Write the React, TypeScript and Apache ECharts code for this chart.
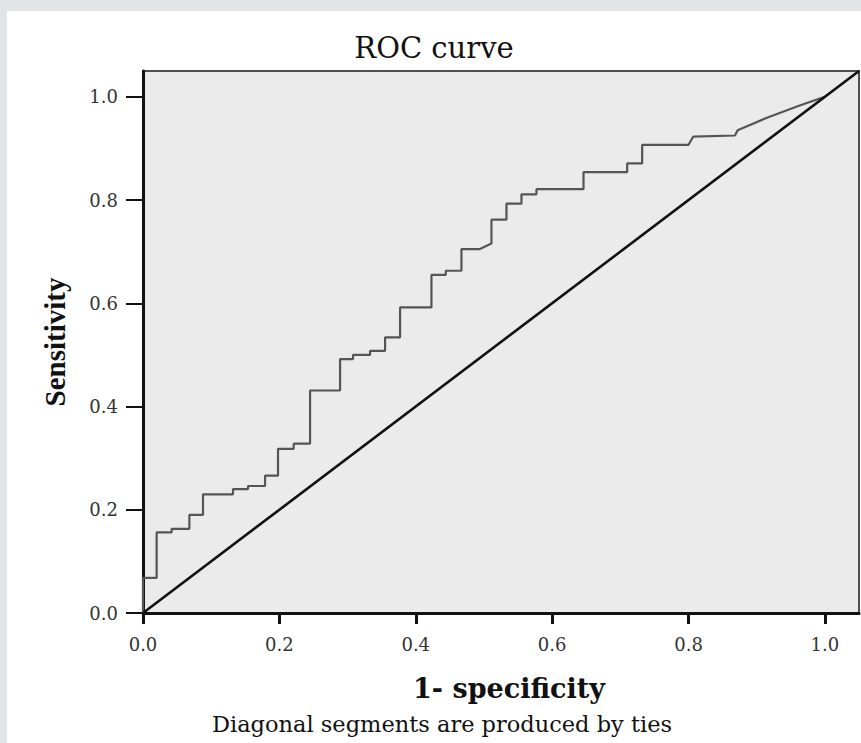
import React, { useEffect, useRef } from "react";
import * as echarts from "echarts";

const TITLE = "ROC curve";
const X_NAME = "1- specificity";
const Y_NAME = "Sensitivity";
const FOOTNOTE = "Diagonal segments are produced by ties";
const TICK_VALUES = [0, 0.2, 0.4, 0.6, 0.8, 1.0];
const AXIS_MAX = 1.05;

// ROC curve points: 1 - specificity (x) and sensitivity (y)
const FPR = [
  0, 0, 0.02, 0.02, 0.042, 0.042, 0.068, 0.068, 0.088, 0.088, 0.132, 0.132,
  0.154, 0.154, 0.179, 0.179, 0.198, 0.198, 0.221, 0.221, 0.245, 0.245, 0.289,
  0.289, 0.308, 0.308, 0.333, 0.333, 0.355, 0.355, 0.377, 0.377, 0.423, 0.423,
  0.444, 0.444, 0.467, 0.467, 0.494, 0.511, 0.511, 0.533, 0.533, 0.555, 0.555,
  0.577, 0.577, 0.646, 0.646, 0.71, 0.71, 0.732, 0.732, 0.8, 0.807, 0.868,
  0.872, 0.914, 0.963, 1.0,
];
const TPR = [
  0, 0.068, 0.068, 0.156, 0.156, 0.163, 0.163, 0.19, 0.19, 0.23, 0.23, 0.24,
  0.24, 0.246, 0.246, 0.266, 0.266, 0.318, 0.318, 0.328, 0.328, 0.431, 0.431,
  0.492, 0.492, 0.5, 0.5, 0.508, 0.508, 0.534, 0.534, 0.592, 0.592, 0.655,
  0.655, 0.663, 0.663, 0.705, 0.705, 0.716, 0.762, 0.762, 0.793, 0.793, 0.811,
  0.811, 0.821, 0.821, 0.854, 0.854, 0.871, 0.871, 0.907, 0.907, 0.923, 0.925,
  0.935, 0.959, 0.983, 1.0,
];

// Reference diagonal line
const DIAG_X = [0, 1.05];
const DIAG_Y = [0, 1.05];

export default function App() {
  const ref = useRef<HTMLDivElement>(null);

  useEffect(() => {
    if (!ref.current) return;
    const chart = echarts.init(ref.current, null, { renderer: "svg" });
    const rocData = FPR.map((x, i) => [x, TPR[i]]);
    const diagData = DIAG_X.map((x, i) => [x, DIAG_Y[i]]);

    chart.setOption({
      animation: false,
      backgroundColor: "#ffffff",
      title: {
        text: TITLE,
        left: "center",
        top: 17,
        textStyle: {
          fontFamily: "DejaVu Serif",
          fontSize: 29,
          fontWeight: "normal",
          color: "#111",
        },
      },
      grid: {
        left: 136,
        top: 60,
        width: 716,
        height: 542,
        show: true,
        backgroundColor: "#ebebeb",
        borderColor: "#505050",
        borderWidth: 2,
        containLabel: false,
      },
      xAxis: {
        type: "value",
        min: 0,
        max: AXIS_MAX,
        axisLine: { show: true, onZero: false, lineStyle: { color: "#111", width: 3 } },
        axisTick: {
          show: true,
          customValues: TICK_VALUES,
          length: 11,
          lineStyle: { color: "#111", width: 3 },
        },
        axisLabel: {
          customValues: TICK_VALUES,
          formatter: (v: number) => v.toFixed(1),
          margin: 22,
          fontFamily: "DejaVu Serif",
          fontSize: 18,
          color: "#333",
        },
        splitLine: { show: false },
        name: X_NAME,
        nameLocation: "middle",
        nameGap: 62,
        nameTextStyle: {
          fontFamily: "DejaVu Serif",
          fontWeight: "bold",
          fontSize: 27,
          color: "#111",
          padding: [0, 0, 0, 16],
        },
      },
      yAxis: {
        type: "value",
        min: 0,
        max: AXIS_MAX,
        axisLine: { show: true, onZero: false, lineStyle: { color: "#111", width: 3 } },
        axisTick: {
          show: true,
          customValues: TICK_VALUES,
          length: 17,
          lineStyle: { color: "#111", width: 2 },
        },
        axisLabel: {
          customValues: TICK_VALUES,
          formatter: (v: number) => v.toFixed(1),
          margin: 25,
          fontFamily: "DejaVu Serif",
          fontSize: 18,
          color: "#333",
        },
        splitLine: { show: false },
        name: Y_NAME,
        nameLocation: "middle",
        nameGap: 74,
        nameTextStyle: {
          fontFamily: "Liberation Serif",
          fontWeight: "bold",
          fontSize: 29,
          color: "#111",
        },
      },
      graphic: [
        {
          type: "text",
          x: 435,
          y: 713,
          style: {
            text: FOOTNOTE,
            fontFamily: "DejaVu Serif",
            fontSize: 22.5,
            fill: "#111",
            align: "center",
            verticalAlign: "middle",
          },
        },
      ],
      series: [
        {
          type: "line",
          data: rocData,
          symbol: "none",
          lineStyle: { color: "#555", width: 2.2 },
          z: 3,
        },
        {
          type: "line",
          data: diagData,
          symbol: "none",
          lineStyle: { color: "#111", width: 2.6 },
          z: 4,
        },
      ],
    });

    return () => {
      chart.dispose();
    };
  }, []);

  return (
    <div
      style={{
        position: "fixed",
        left: 0,
        top: 0,
        width: 861,
        height: 743,
        background: "#e1e5e7",
      }}
    >
      <div
        ref={ref}
        style={{
          position: "absolute",
          left: 7,
          top: 11,
          width: 854,
          height: 732,
          background: "#ffffff",
        }}
      />
    </div>
  );
}
